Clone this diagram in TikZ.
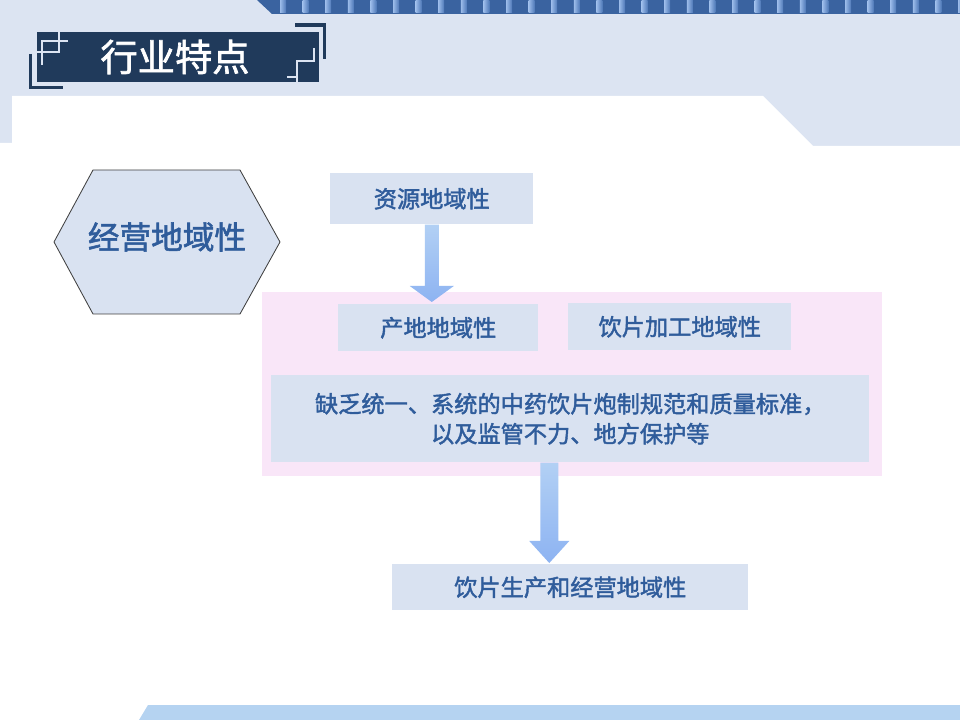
\documentclass[tikz,border=0pt]{standalone}
\usepackage{fontspec}
\usepackage{tikz}
\usetikzlibrary{calc}
\usetikzlibrary{positioning}
\newfontfamily\cjk[AutoFakeBold=1.8]{Noto Sans CJK SC}
\newdimen\pxu
\pxu=0.025cm
\definecolor{bgblue}{HTML}{DCE4F2}
\definecolor{barblue}{HTML}{3A63A0}
\definecolor{barlight}{HTML}{9CBCEA}
\definecolor{barmid}{HTML}{4F79B8}
\definecolor{navy}{HTML}{203A5B}
\definecolor{boxfill}{HTML}{D9E2F1}
\definecolor{pinkfill}{HTML}{F9E6F8}
\definecolor{textblue}{HTML}{2F5C9B}
\definecolor{bandblue}{HTML}{B5D3F1}
\definecolor{arrowtop}{HTML}{B2D0F4}
\definecolor{arrowbot}{HTML}{8DB3F2}
\tikzstyle{box}=[rectangle,fill=boxfill,draw=none,anchor=north west,inner sep=0mm,
  text=textblue,font=\cjk\bfseries\fontsize{16.5}{21.3}\selectfont]
\tikzstyle{region}=[rectangle,fill=pinkfill,draw=none,anchor=north west,inner sep=0mm]
\tikzstyle{hexa}=[fill=boxfill,draw=black!75,line width=0.6pt]
\tikzstyle{blockarrow}=[top color=arrowtop,bottom color=arrowbot,draw=none]
\tikzstyle{fret}=[draw=bgblue,line width=1.6pt]
\tikzstyle{corner}=[draw=navy,line width=2.2pt]

\begin{document}
\begin{tikzpicture}[x=0.025cm,y=-0.025cm]
      \useasboundingbox (0,0) rectangle (960,720);
      % page background
      \fill[bgblue] (0,0) rectangle (960,720);
      \fill[white] (12,96) -- (763,96) -- (813,146) -- (960,146) -- (960,720)
        -- (0,720) -- (0,143) -- (12,143) -- cycle;
      \fill[bandblue] (148,705) -- (960,705) -- (960,720) -- (139,720) -- cycle;
      % top bar
      \fill[barblue] (257,0) -- (960,0) -- (960,14) -- (272,14) -- cycle;
      \foreach \i in {0,...,30}
        \shade[left color=barlight,right color=barmid] (280+22.6*\i,0) rectangle ++(6,13);
      % title
      \fill[navy] (37,32) rectangle (319,82);
      \draw[corner] (30.5,54) -- (30.5,87.5) -- (63,87.5);
      \draw[corner] (295,25) -- (324.5,25) -- (324.5,59);
      \draw[fret] (42,65) -- (42,41) -- (68,41);
      \draw[fret] (59,32) -- (59,52) -- (37,52);
      \draw[fret] (314,48) -- (314,61) -- (297,61) -- (297,82);
      \draw[fret] (287,77) -- (297,77);
      \node[text=white,font=\cjk\bfseries\fontsize{26.5}{30}\selectfont] (title) at (175,57) {行业特点};
      % hexagon
      \draw[hexa] (54,242) -- (93,170) -- (240,170) -- (280,242) -- (240,314) -- (93,314) -- cycle;
      \node[text=textblue,font=\cjk\bfseries\fontsize{22.5}{26}\selectfont] (biz) at (167,237) {经营地域性};
      % boxes
      \node[region,minimum width=620*\pxu,minimum height=184*\pxu] (zone) at (262,292) {};
      \node[box,minimum width=203*\pxu,minimum height=51*\pxu] (src) at (330,173) {资源地域性};
      \node[box,minimum width=200*\pxu,minimum height=47*\pxu] (ch) at (338,304) {产地地域性};
      \node[box,minimum width=223*\pxu,minimum height=47*\pxu] (proc) at (568,303) {饮片加工地域性};
      \node[box,minimum width=598*\pxu,minimum height=87*\pxu,align=center] (mid) at (271,375)
        {缺乏统一、系统的中药饮片炮制规范和质量标准，\\以及监管不力、地方保护等};
      \node[box,minimum width=356*\pxu,minimum height=46*\pxu] (out) at (392,564) {饮片生产和经营地域性};
      % arrows
      \coordinate (a1) at (src.south);
      \coordinate (t1) at ($(src.south |- ch.north)+(0,-2)$);
      \shade[blockarrow] ($(a1)+(-7,0)$) -- ($(t1)+(-7,-16)$) -- ($(t1)+(-22,-16)$) -- (t1)
        -- ($(t1)+(22,-16)$) -- ($(t1)+(7,-16)$) -- ($(a1)+(7,0)$) -- cycle;
      \coordinate (a2) at ($(mid.south)+(-21,0)$);
      \coordinate (t2) at ($(a2 |- out.north)+(0,-1)$);
      \shade[blockarrow] ($(a2)+(-9,0)$) -- ($(t2)+(-9,-22)$) -- ($(t2)+(-20,-22)$) -- (t2)
        -- ($(t2)+(20,-22)$) -- ($(t2)+(9,-22)$) -- ($(a2)+(9,0)$) -- cycle;
    \end{tikzpicture}
\end{document}
